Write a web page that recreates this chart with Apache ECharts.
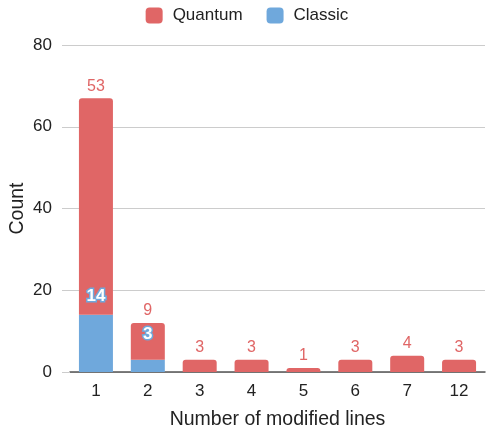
<!DOCTYPE html>
<html><head><meta charset="utf-8">
<script src="https://cdn.jsdelivr.net/npm/echarts@6/dist/echarts.min.js"></script>
<style>html,body{margin:0;padding:0;background:#fff}#c{width:494px;height:432px}</style>
</head><body><div id="c"></div>
<script>
const categories = ['1','2','3','4','5','6','7','12'];
const quantum = [53, 9, 3, 3, 1, 3, 4, 3];
const classic = [14, 3, 0, 0, 0, 0, 0, 0];
const yTicks = [0, 20, 40, 60, 80];

const RED = '#e06666', BLUE = '#6fa8dc';
const font = 'Arial, "Liberation Sans", sans-serif';
const chart = echarts.init(document.getElementById('c'), null, {renderer: 'canvas'});
const classicOffsets = [-5, -12];
chart.setOption({
  animation: false,
  textStyle: {fontFamily: font},
  legend: {
    top: 2, left: 'center', itemWidth: 17, itemHeight: 16, itemGap: 24,
    icon: 'roundRect',
    textStyle: {fontSize: 17, color: '#222', fontFamily: font, padding: [0, 0, 0, 5]},
    data: ['Quantum', 'Classic']
  },
  grid: {left: 70, right: 9, top: 45, bottom: 60, outerBoundsMode: 'none', containLabel: false},
  xAxis: {
    type: 'category', data: categories,
    name: 'Number of modified lines', nameLocation: 'middle', nameGap: 38,
    nameMoveOverlap: false,
    nameTextStyle: {fontSize: 19.5, color: '#222', fontFamily: font},
    axisLine: {lineStyle: {color: '#555', width: 1.5}},
    axisTick: {show: false},
    axisLabel: {fontSize: 17, color: '#222', margin: 11, fontFamily: font}
  },
  yAxis: {
    type: 'value', min: yTicks[0], max: yTicks[yTicks.length - 1], interval: 20,
    name: 'Count', nameLocation: 'middle', nameGap: 42.5, nameRotate: 90,
    nameMoveOverlap: false,
    nameTextStyle: {fontSize: 19.5, color: '#222', fontFamily: font},
    axisLine: {show: false},
    axisTick: {show: true, length: 8, lineStyle: {color: '#ccc'}},
    splitLine: {lineStyle: {color: '#ccc'}},
    axisLabel: {fontSize: 17, color: '#222', margin: 18, fontFamily: font}
  },
  series: [
    {
      name: 'Classic', type: 'bar', stack: 's', barWidth: 34,
      itemStyle: {color: BLUE},
      data: classic.map((v, i) => ({
        value: v,
        label: v > 0 ? {
          show: true, position: 'top', offset: [0, classicOffsets[i] || 0],
          fontSize: 17, fontWeight: 'bold', color: '#fff',
          textBorderColor: BLUE, textBorderWidth: 3, fontFamily: font
        } : {show: false}
      }))
    },
    {
      name: 'Quantum', type: 'bar', stack: 's', barWidth: 34,
      itemStyle: {color: RED, borderRadius: [3, 3, 0, 0]},
      label: {show: true, position: 'top', distance: 4, fontSize: 16, color: RED, fontFamily: font},
      data: quantum
    }
  ]
});
</script></body></html>
